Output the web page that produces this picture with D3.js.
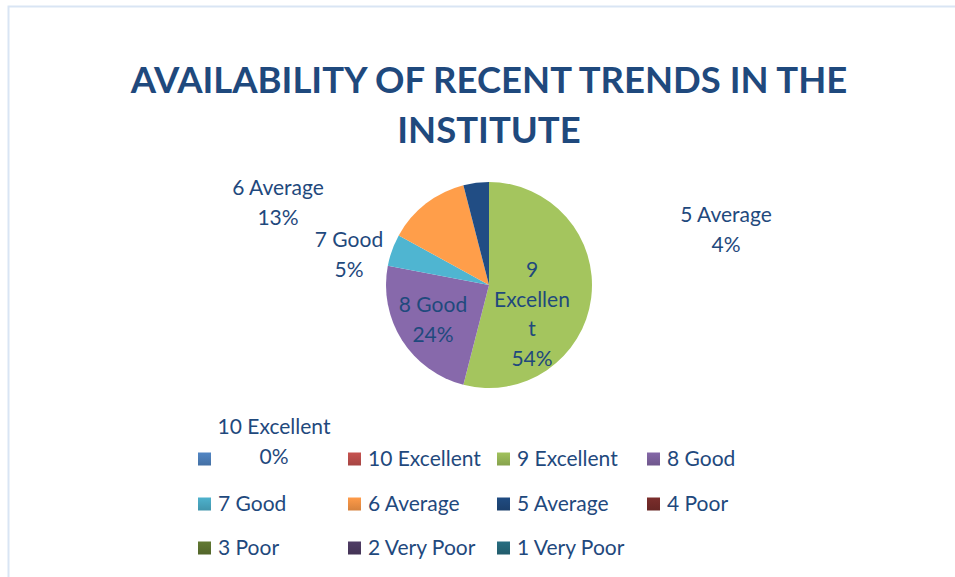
<!DOCTYPE html>
<html>
<head>
<meta charset="utf-8">
<script src="https://cdn.jsdelivr.net/npm/d3@7"></script>
<style>
  body { margin: 0; background: #fff; }
  svg { display: block; font-family: Lato, "Open Sans", sans-serif; }
</style>
</head>
<body>
<svg width="955" height="577"></svg>
<script>
// chart data
var categories = ["", "10 Excellent", "9 Excellent", "8 Good", "7 Good", "6 Average",
                  "5 Average", "4 Poor", "3 Poor", "2 Very Poor", "1 Very Poor"];
var values = [0, 0, 54, 24, 5, 13, 4, 0, 0, 0, 0];
var colors = ["#4f81bd", "#c0504d", "#9bbb59", "#8064a2", "#4bacc6", "#f79646",
              "#1f497d", "#772c2a", "#5f7530", "#4d3b62", "#276a7c"];
var titleLines = ["AVAILABILITY OF RECENT TRENDS IN THE", "INSTITUTE"];

// where Excel left the data labels (manually dragged ones included)
var labelSpots = {
  "10 Excellent": {x: 274, y: 427, lines: ["10 Excellent", "0%"]},
  "9 Excellent": {x: 532, y: 270, lines: ["9", "Excellen", "t", "54%"]},
  "8 Good": {x: 433, y: 305},
  "7 Good": {x: 349, y: 240},
  "6 Average": {x: 278, y: 188},
  "5 Average": {x: 726, y: 215}
};

var textColor = "#1f497d";
var fontSize = 21;
var svg = d3.select("svg");

// outer frame
svg.append("rect")
  .attr("x", 8.5).attr("y", 6.5)
  .attr("width", 960).attr("height", 600)
  .attr("fill", "none")
  .attr("stroke", "#d9e5f4")
  .attr("stroke-width", 2);

// title, sized to the width it takes in the original
var title = svg.append("text")
  .attr("text-anchor", "middle")
  .attr("fill", textColor)
  .attr("font-weight", "bold")
  .attr("font-size", 40);
title.selectAll("tspan")
  .data(titleLines)
  .enter().append("tspan")
  .attr("x", 489)
  .attr("y", function(d, i) { return 93 + i * 50; })
  .text(function(d) { return d; });
var w = title.select("tspan").node().getComputedTextLength();
title.attr("font-size", 40 * 717 / w);

// pie
var cx = 489, cy = 285, r = 103;
var pie = d3.pie().sort(null).value(function(d) { return d.v; });
var arc = d3.arc().innerRadius(0).outerRadius(r);
var data = categories.map(function(c, i) { return {name: c, v: values[i], color: colors[i], i: i}; });

var defs = svg.append("defs");
data.forEach(function(d) {
  var g = defs.append("linearGradient")
    .attr("id", "grad" + d.i)
    .attr("gradientUnits", "userSpaceOnUse")
    .attr("x1", 0).attr("y1", cy - r)
    .attr("x2", 0).attr("y2", cy + r);
  g.append("stop").attr("offset", "0").attr("stop-color", d3.color(d.color).brighter(0.15));
  g.append("stop").attr("offset", "1").attr("stop-color", d3.color(d.color).darker(0.35));

  var lg = defs.append("linearGradient")
    .attr("id", "lg" + d.i)
    .attr("x1", 0).attr("y1", 0).attr("x2", 0).attr("y2", 1);
  lg.append("stop").attr("offset", "0").attr("stop-color", d3.color(d.color).brighter(0.1));
  lg.append("stop").attr("offset", "1").attr("stop-color", d3.color(d.color).darker(0.4));
});

var pieG = svg.append("g").attr("transform", "translate(" + cx + "," + cy + ")");
pieG.selectAll("path")
  .data(pie(data).filter(function(d) { return d.data.v > 0; }))
  .enter().append("path")
  .attr("d", arc)
  .attr("fill", function(d) { return "url(#grad" + d.data.i + ")"; });

// data labels
var total = d3.sum(values);
var labels = svg.append("g")
  .attr("fill", textColor)
  .attr("font-size", fontSize)
  .attr("text-anchor", "middle");
data.forEach(function(d) {
  var spot = labelSpots[d.name];
  if (!spot) return;
  var lines = spot.lines || [d.name, Math.round(d.v / total * 100) + "%"];
  var t = labels.append("text");
  t.selectAll("tspan")
    .data(lines)
    .enter().append("tspan")
    .attr("x", spot.x)
    .attr("y", function(l, i) { return spot.y + i * 29.5; })
    .attr("dy", "0.35em")
    .text(function(l) { return l; });
});

// legend
var legendCols = [198, 348, 497, 647];
var legendRows = [459, 504, 548];
var legend = svg.append("g");
var item = legend.selectAll("g")
  .data(data)
  .enter().append("g")
  .attr("transform", function(d, i) {
    return "translate(" + legendCols[i % 4] + "," + legendRows[Math.floor(i / 4)] + ")";
  });
item.append("rect")
  .attr("x", 0).attr("y", -6.5)
  .attr("width", 13).attr("height", 13)
  .attr("fill", function(d) { return "url(#lg" + d.i + ")"; });
item.append("text")
  .attr("x", 20)
  .attr("dy", "0.35em")
  .attr("fill", textColor)
  .attr("font-size", fontSize)
  .text(function(d) { return d.name; });
</script>
</body>
</html>
